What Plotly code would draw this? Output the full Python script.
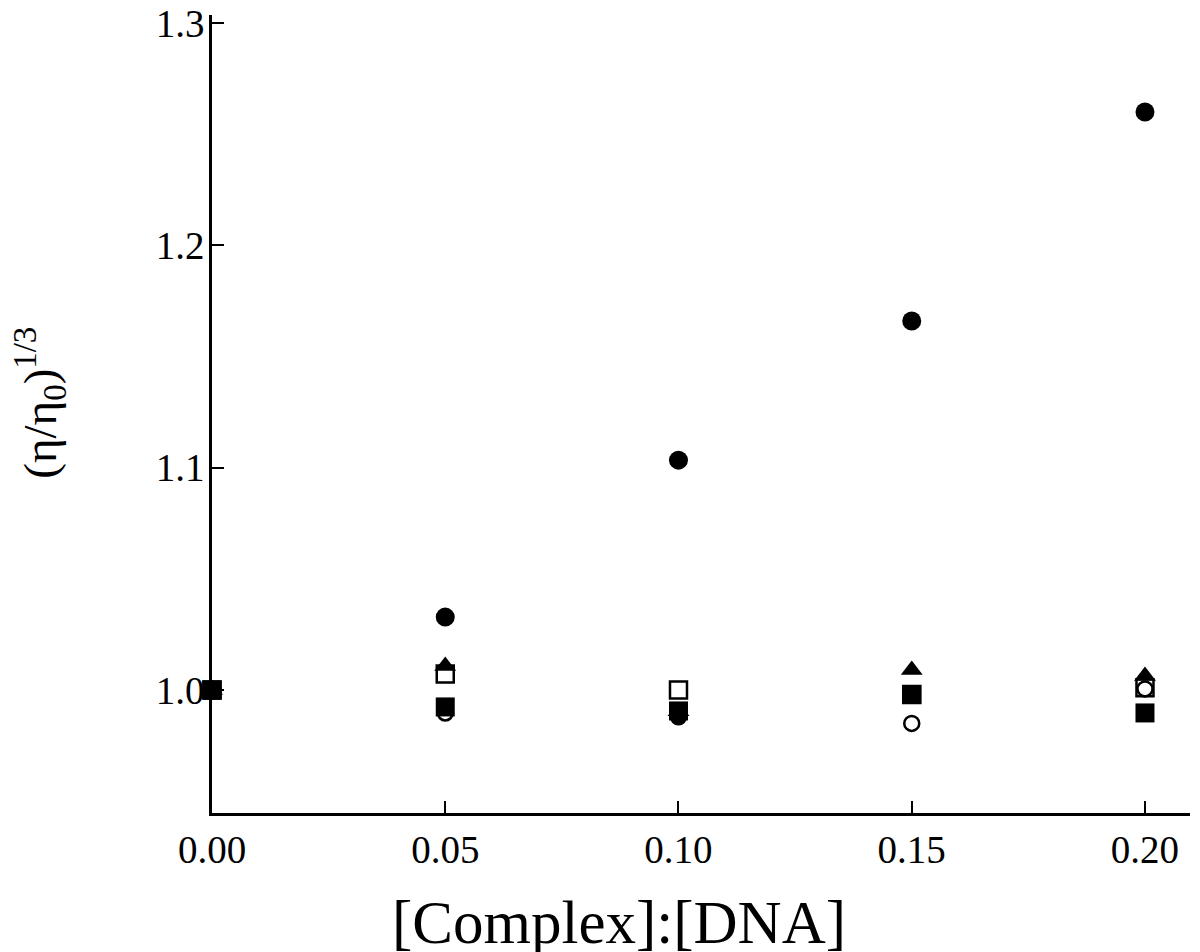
import plotly.graph_objects as go

# Data: [Complex]:[DNA] ratio vs relative viscosity (eta/eta0)^(1/3)
ratio = [0.00, 0.05, 0.10, 0.15, 0.20]

filled_circle = [1.000, 1.0328, 1.1034, 1.1660, 1.2600]
filled_triangle = [1.000, 1.0108, 0.9905, 1.0090, 1.0063]
open_square = [1.000, 1.0072, 1.0000, 0.9980, 1.0010]
filled_square = [1.000, 0.9924, 0.9906, 0.9980, 0.9897]
open_circle = [1.000, 0.9897, 0.9880, 0.9850, 1.0005]

x_ticks = [0.00, 0.05, 0.10, 0.15, 0.20]
x_tick_text = ["0.00", "0.05", "0.10", "0.15", "0.20"]
y_ticks = [1.0, 1.1, 1.2, 1.3]
y_tick_text = ["1.0", "1.1", "1.2", "1.3"]

FONT = "Liberation Serif, Times New Roman, serif"
BLACK = "#000000"

fig = go.Figure()

fig.add_trace(go.Scatter(
    x=ratio, y=open_circle, mode="markers", cliponaxis=False, showlegend=False,
    marker=dict(symbol=["circle-open", "circle-open", "circle", "circle-open", "circle-open"],
                size=15, color=BLACK, line=dict(color=BLACK, width=2.5)),
))
fig.add_trace(go.Scatter(
    x=ratio, y=filled_square, mode="markers", cliponaxis=False, showlegend=False,
    marker=dict(symbol="square", size=19, color=BLACK, line=dict(width=0)),
))
fig.add_trace(go.Scatter(
    x=ratio, y=open_square, mode="markers", cliponaxis=False, showlegend=False,
    marker=dict(symbol="square-open", size=17, color=BLACK, line=dict(color=BLACK, width=2.5)),
))
fig.add_trace(go.Scatter(
    x=ratio, y=filled_triangle, mode="markers", cliponaxis=False, showlegend=False,
    marker=dict(symbol="triangle-up", size=19, color=BLACK, line=dict(width=0)),
))
fig.add_trace(go.Scatter(
    x=ratio, y=filled_circle, mode="markers", cliponaxis=False, showlegend=False,
    marker=dict(symbol="circle", size=19, color=BLACK, line=dict(width=0)),
))
# origin point shown as a filled square on top
fig.add_trace(go.Scatter(
    x=ratio[:1], y=filled_square[:1], mode="markers", cliponaxis=False, showlegend=False,
    marker=dict(symbol="square", size=19, color=BLACK, line=dict(width=0)),
))

fig.update_layout(
    width=1200, height=952,
    margin=dict(l=204, r=18, t=7, b=147, autoexpand=False),
    paper_bgcolor="white", plot_bgcolor="white",
    font=dict(family=FONT, size=39, color=BLACK),
    xaxis=dict(
        range=[0, 0.20965], showgrid=False, zeroline=False, automargin=False,
        showline=True, linecolor=BLACK, linewidth=2.5,
        ticks="inside", ticklen=12, tickwidth=2, tickcolor=BLACK,
        tickvals=x_ticks, ticktext=x_tick_text, ticklabeloverflow="allow",
        tickfont=dict(family=FONT, size=39, color=BLACK),
    ),
    yaxis=dict(
        range=[0.9447, 1.3036], showgrid=False, zeroline=False, automargin=False,
        showline=True, linecolor=BLACK, linewidth=2.5,
        ticks="inside", ticklen=12, tickwidth=2, tickcolor=BLACK,
        tickvals=y_ticks, ticktext=y_tick_text, ticklabeloverflow="allow",
        ticklabelstandoff=-3,
        tickfont=dict(family=FONT, size=39, color=BLACK),
    ),
    annotations=[
        dict(text="[Complex]:[DNA]", xref="paper", yref="paper",
             x=0.416, y=-0.137, xanchor="center", yanchor="middle",
             showarrow=False, font=dict(family=FONT, size=61, color=BLACK)),
        dict(text="(η/η<sub>0</sub>)<sup>1/3</sup>", xref="paper", yref="paper",
             x=-0.176, y=0.514, xanchor="center", yanchor="middle", textangle=-90,
             showarrow=False, font=dict(family=FONT, size=47, color=BLACK)),
    ],
)

fig.write_html("out.html")
